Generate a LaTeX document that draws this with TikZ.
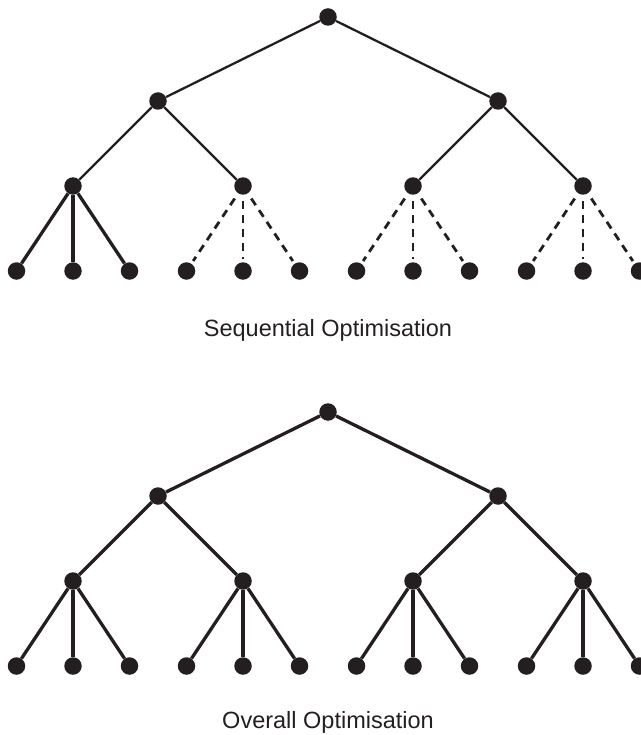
\documentclass[tikz,border=0pt]{standalone}
\usepackage{fontspec}
\setmainfont{Liberation Sans}
\usepackage{tikz}
\usetikzlibrary{positioning}
\definecolor{inkblack}{RGB}{35,31,32}

\begin{document}
\begin{tikzpicture}[x=1pt,y=-1pt,
  dot/.style={circle,fill=inkblack,inner sep=0pt,minimum size=17.5pt},
  edgethin/.style={draw=inkblack,line width=2.3pt},
  edgethick/.style={draw=inkblack,line width=3.3pt},
  edgedash/.style={draw=inkblack,line width=2.8pt,dash pattern=on 8pt off 6pt,shorten <=15pt,shorten >=12pt},
  caption/.style={font=\fontsize{23.5}{28}\selectfont,text=inkblack,anchor=base}]
  \useasboundingbox (0,0) rectangle (640,735);
  % two trees, one above the other
  \foreach \t/\oy in {seq/0,all/395}{
    \node[dot] (\t-r) at (328,17+\oy) {};
    \node[dot] (\t-a1) at (158,101+\oy) {};
    \node[dot] (\t-a2) at (498,101+\oy) {};
    \foreach \i in {1,...,4}{
      \node[dot] (\t-b\i) at ({73+170*(\i-1)},186+\oy) {};
      \foreach \j in {1,2,3}
        \node[dot] (\t-c\i\j) at ({73+170*(\i-1)+56.5*(\j-2)},271+\oy) {};
    }
  }
  % sequential: upper levels thin, first group solid, rest dashed
  \draw[edgethin] (seq-a1) -- (seq-r) -- (seq-a2);
  \draw[edgethin] (seq-b1) -- (seq-a1) -- (seq-b2);
  \draw[edgethin] (seq-b3) -- (seq-a2) -- (seq-b4);
  \foreach \j in {1,2,3}
    \draw[edgethick] (seq-b1) -- (seq-c1\j);
  \foreach \i in {2,3,4}
    \foreach \j in {1,2,3}
      \draw[edgedash] (seq-b\i.center) -- (seq-c\i\j.center);
  % overall: everything solid
  \draw[edgethick] (all-a1) -- (all-r) -- (all-a2);
  \draw[edgethick] (all-b1) -- (all-a1) -- (all-b2);
  \draw[edgethick] (all-b3) -- (all-a2) -- (all-b4);
  \foreach \i in {1,...,4}
    \foreach \j in {1,2,3}
      \draw[edgethick] (all-b\i) -- (all-c\i\j);
  \node[caption] (seq-label) at (328,336) {Sequential Optimisation};
  \node[caption] (all-label) at (328,728) {Overall Optimisation};
\end{tikzpicture}
\end{document}
